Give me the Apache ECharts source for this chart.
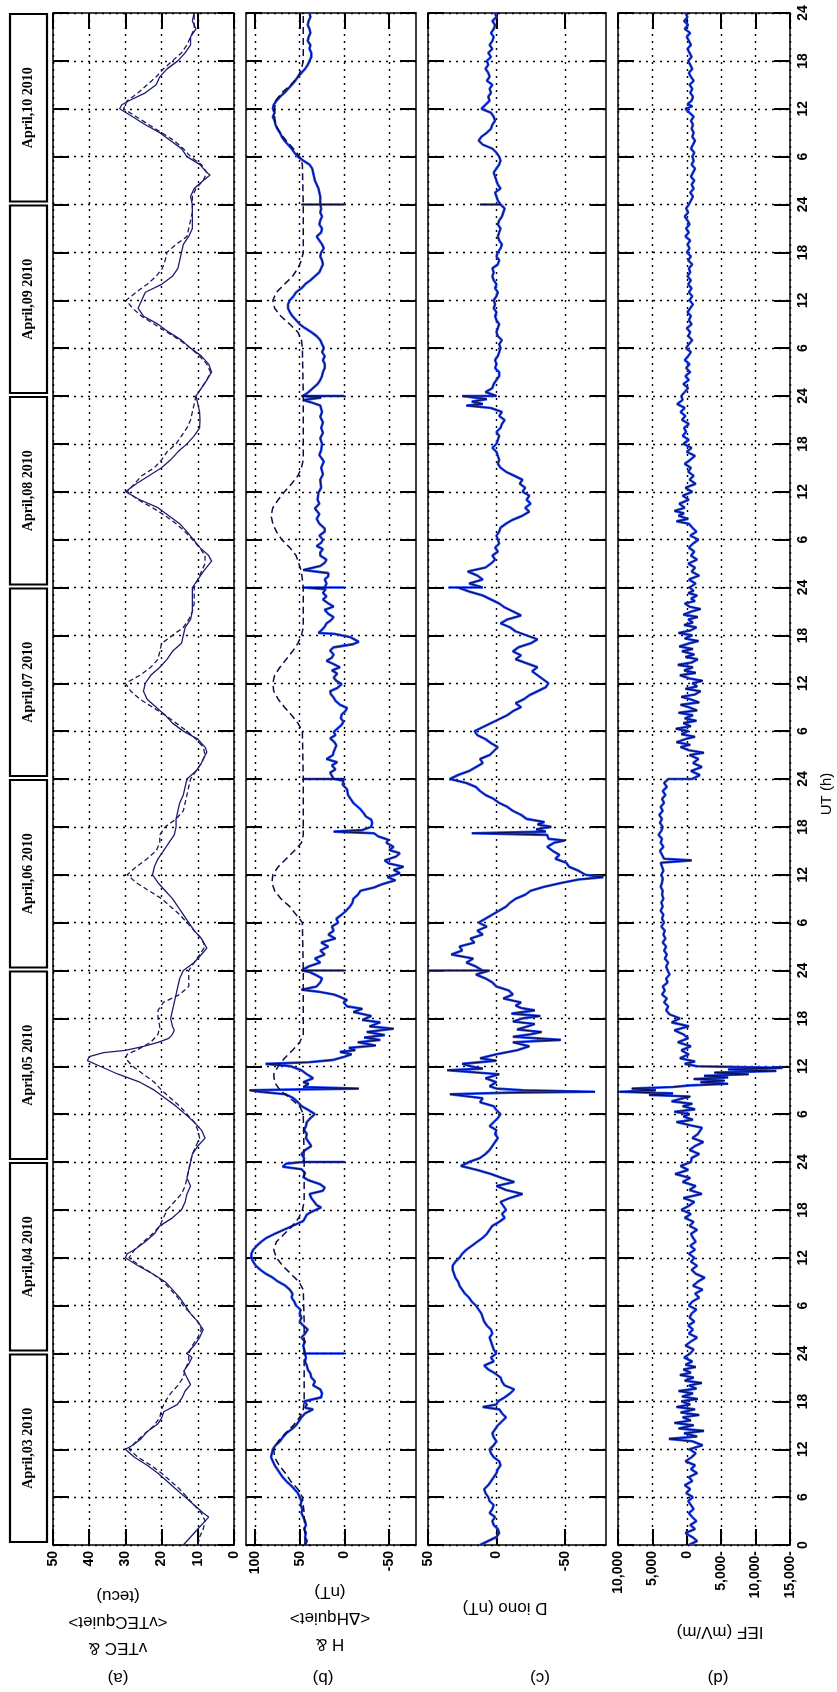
<!DOCTYPE html>
<html><head><meta charset="utf-8">
<script src="https://cdn.jsdelivr.net/npm/echarts@6/dist/echarts.min.js"></script>
<style>html,body{margin:0;padding:0;background:#fff}#c{width:837px;height:1692px}</style>
</head><body><div id="c"></div>
<script>
// ---------- DATA ([UT hour since 3 Apr 00:00, value]) ----------
const dayLabels = ['April,03 2010','April,04 2010','April,05 2010','April,06 2010','April,07 2010','April,08 2010','April,09 2010','April,10 2010'];
const dayStarts = [0,24,48,72,96,120,144,168];
const tecTicks = [0,10,20,30,40,50];
const hTicks = [-50,0,50,100];
const dTicks = [-50,0,50];
const iefTicks = [-15000,-10000,-5000,0,5000,10000];

const vtec = [[0,14],[1,12],[2,10],[3,8],[3.5,7],[4,8.5],[5,11],[6,13.5],[7,16],[8,18.5],[9,21],[10,24],[11,27.5],[12,30],[12.5,28],[13.3,25.7],[14.2,24],[15.2,21],[15.9,20],[16.7,19.4],[17.6,15.7],[18.4,14.4],[19.3,13.5],[20.1,12],[21,13],[21.8,13.9],[22.7,12.5],[23.5,11.6],[24,13],
[25,11],[26,9.5],[27,8.5],[28,10],[29,12],[30,13.5],[31,15],[32,17],[33,19],[34,22.5],[35,26.5],[36,30],[36.5,29.5],[37,27.5],[38,24.5],[39,22],[40,20.5],[41,17],[42,14.5],[43,13.5],[44,13],[45,12],[46,13],[47,12.5],[48,12],
[49,11.5],[50,10],[51,8],[52,9],[53,11],[54,13.5],[55,16],[56,19],[57,22],[58,26],[59,32],[60,37],[60.7,40.5],[61.2,40],[61.7,36],[62,30],[62.5,25],[63,21],[63.5,18],[64,17],[64.5,16.5],[65,17],[66,17.5],[67,17],[68,16.5],[69,16],[70,15.5],[71,15],[72,14],
[73,11],[74,9],[74.8,7.5],[76,9],[77,11],[78,12.5],[79,14],[80,15.5],[81,17],[82,19],[83,21],[84,22.5],[85,22],[86,21],[87,19.5],[88,18],[89,16.5],[90,16],[91,16],[92,15.5],[93,15],[94,14],[95,13.5],[96,13],
[97,10.5],[98,9],[99.4,7.5],[100,8],[101,10],[102,14],[103,17],[104,19],[105,21.5],[106,24],[107,25],[108,24.5],[109,23],[110,20.5],[111,18.5],[112,17],[113,14.5],[114,14],[115,13.5],[116,12],[117,11.5],[118,11.5],[119,11.5],[120,11.5],
[121,10],[122,8.5],[123.3,6.2],[124,7],[125,9.4],[126,11.2],[127,13],[128,15],[129,18],[130,21],[131,26],[132,30],[133,27],[134,23.5],[135,20],[136,17.5],[137,15.5],[138,13],[139,11],[140,9.5],[141,9.4],[142,9.5],[143,10],[144,10.5],
[145,9],[146,7.5],[147,6.2],[148,7],[149,9],[150,12],[151,14.5],[152,18],[153,21],[154,25],[155,26.5],[156,25.5],[157,24.5],[158,20],[159,17],[160,15.5],[161,15],[162,14.5],[163,14],[164,12.5],[165,11.5],[166,11.5],[167,11.5],[168,11.5],
[169,12],[170,11],[171,8.5],[171.7,6.6],[172,7.5],[173,9.4],[174,13],[175,14.5],[176,17.5],[177,20.5],[178,24.5],[179,28],[180,31.6],[180.5,31],[181,29],[182,24.5],[183,21.5],[184,20.5],[185,18.5],[186,15.5],[187,13.5],[188,12],[189,12],[190,10.5],[191,11.5],[192,11]];

const vtecQuiet = [[0,10],[1,9.5],[2,8.5],[3,8],[4,9],[5,11],[6,13],[7,15],[8,17.5],[9,20],[10,23],[11,26.5],[12,29],[13,27],[14,24.5],[15,22],[16,20.5],[17,20],[18,19],[19,17.5],[20,15.5],[21,14],[22,13.5],[23,12.5],[24,12.5],
[25,11.5],[26,10],[27,9],[28,10],[29,12],[30,14],[31,15.5],[32,17.5],[33,19.5],[34,22.5],[35,26],[36,29],[37,27.5],[38,25],[39,22.5],[40,20.5],[41,19.5],[42,18.5],[43,16.5],[44,14.5],[45,13.5],[46,13],[47,12.5],[48,12],
[49,11.5],[50,10.5],[51,9.5],[52,10],[53,11],[54,13],[55,15],[56,17.5],[57,20],[58,22],[59,25],[60,28],[61,30],[61.5,29.5],[62,27],[63,23],[64,21],[65,20.5],[66,21],[67,21],[68,19.5],[69,15],[70,12.5],[71,12.5],[72,12.5],
[73,11],[74,9.5],[75,8],[76,9],[77,11],[78,13],[79,15],[80,17.5],[81,20],[82,23.5],[83,27],[84,29.5],[85,27],[86,24],[87,21.5],[88,20.5],[89,20.5],[90,19],[91,16],[92,14],[93,13.5],[94,13],[95,12.5],[96,12],
[97,10.5],[98,9],[99,8],[100,8.5],[101,10.5],[102,13],[103,16],[104,19],[105,22.5],[106,26],[107,28.5],[108,30],[109,26],[110,23],[111,21],[112,20.5],[113,20],[114,17],[115,14],[116,12.5],[117,11.5],[118,11],[119,11],[120,11],
[121,10],[122,9],[123,8],[124,8],[125,9.5],[126,11.5],[127,13.5],[128,16],[129,19],[130,22.5],[131,26.5],[132,29.5],[133,27.5],[134,25.5],[135,22],[136,20],[137,18.5],[138,16],[139,14.5],[140,13],[141,12],[142,11.5],[143,11],[144,10.5],
[145,9],[146,7.5],[147,6.5],[148,7.5],[149,9.5],[150,12],[151,15],[152,18.5],[153,22],[154,25.5],[155,28],[156,29.8],[157,27],[158,24],[159,21.5],[160,19.8],[161,19],[162,18.5],[163,16],[164,13],[165,12.5],[166,12],[167,11.5],[168,11.5],
[169,11.5],[170,10.5],[171,8.5],[172,7.5],[173,9],[174,12],[175,14],[176,16.5],[177,20],[178,23.5],[179,27],[180,30.5],[181,29.5],[182,26.5],[183,24],[184,21.5],[185,19.5],[186,17],[187,14.5],[188,13],[189,12],[190,11],[191,11],[192,11]];

const hObs = [[0,44],[0.5,42],[1,44],[1.5,43],[2,45],[2.5,43],[3,44],[3.5,46],[4,48],[4.5,47],[5,49],[5.5,48],[6,50],[6.5,52],[7,56],[7.5,60],[8,65],[8.5,69],[9,72],[9.5,75],[10,78],[10.5,80],[11,82],[11.5,81],[12,80],[12.5,77],[13,72],[13.5,69],[14,65],[14.5,59],[15,54],[15.5,51],[16,48],[16.5,44],[17,35],[17.2,44],[17.6,42],[18,45],[18.5,26],[19,25],[19.5,27],[20,35],[20.5,33],[21,37],[21.5,38],[22,41],[22.5,42],[23,44],[23.5,43],[24,44],[24,0],[24,44],
[24.5,45],[25,46],[25.5,44],[26,48],[26.5,44],[27,41],[27.5,46],[28,50],[28.5,48],[29,50],[29.5,49],[30,54],[30.5,56],[31,59],[31.5,58],[32,61],[32.5,66],[33,74],[33.5,80],[34,88],[34.5,94],[35,99],[35.5,102],[36,104],[36.5,104],[37,102],[37.5,98],[38,93],[38.5,87],[39,78],[39.5,68],[40,58],[40.6,46],[41,44],[41.4,42],[41.8,36],[42.3,26],[42.6,31],[42.9,33],[43.5,37],[44,39],[44.4,24],[44.8,22],[45.2,27],[45.7,40],[46.1,46],[46.6,44],[47.1,48],[47.4,69],[47.8,65],[48,46],[48,0],[48,46],
[48.5,45],[49,48],[49.5,44],[50,37],[50.5,40],[51,43],[51.5,42],[52,45],[52.5,43],[53,42],[53.5,38],[54,33],[54.5,40],[55,48],[55.5,52],[56,57],[56.5,66],[56.8,95],[57,106],[57.1,48],[57.2,-16],[57.4,46],[57.8,40],[58,46],[58.5,35],[59,42],[59.5,48],[60,60],[60.3,88],[60.5,40],[60.8,12],[61.2,0],[61.5,-8],[61.8,5],[62,-12],[62.3,-5],[62.6,-35],[63,-15],[63.3,-40],[63.6,-22],[63.9,-45],[64.3,-25],[64.7,-55],[65,-28],[65.5,-40],[65.8,-20],[66.3,-30],[66.8,-10],[67.2,-20],[67.5,-3],[68,1],[68.3,-3],[68.7,5],[69,12],[69.3,27],[69.6,48],[70,31],[70.5,27],[71,25],[71.5,33],[71.8,39],[72,48],[72,0],[72,48],
[72.5,40],[73,27],[73.5,33],[74,22],[74.5,27],[75,18],[75.5,26],[76,10],[76.5,18],[77,12],[77.5,14],[78,7],[78.5,9],[79,3],[79.5,-2],[80,-6],[80.5,-9],[81,-10],[81.5,-15],[82,-18],[82.4,-33],[82.8,-42],[83.3,-57],[83.7,-48],[84.2,-62],[84.6,-55],[85,-66],[85.4,-50],[85.8,-45],[86.3,-58],[86.7,-62],[87.1,-50],[87.5,-55],[88,-47],[88.4,-49],[88.8,-38],[89.2,-33],[89.4,12],[89.6,-20],[90,-30],[90.5,-31],[90.9,-30],[91.3,-24],[91.8,-21],[92.2,-18],[92.6,-14],[93,-10],[93.5,-7],[94,-4],[94.7,-3],[95.3,2],[95.8,1],[96,12],[96,46],[96,0],[96,12],
[96.8,16],[97.2,10],[97.7,14],[98.1,8],[98.5,20],[99,13],[99.4,12],[100.2,9],[100.6,11],[101.1,16],[101.5,10],[101.9,12],[102.4,7],[102.8,3],[103.2,1],[103.6,4],[104.1,3],[104.5,-1],[104.9,-3],[105.3,5],[105.8,10],[106.2,12],[106.6,15],[107,16],[107.4,8],[107.9,3],[108.3,9],[108.7,12],[109.2,8],[109.6,14],[110,5],[110.4,12],[110.8,20],[111.2,14],[111.6,12],[112.1,16],[112.5,12],[112.9,-10],[113.2,-16],[113.4,-14],[113.8,-6],[114.2,12],[114.3,29],[114.7,25],[115.1,22],[115.5,20],[115.9,15],[116.3,12],[116.7,18],[117.2,22],[117.6,12],[118,18],[118.5,24],[118.9,20],[119.3,24],[119.8,21],[120,20],[120,46],[120,0],[120,22],
[120.5,20],[121,22],[121.4,18],[121.8,18],[122.2,46],[122.4,44],[122.7,27],[123.1,22],[123.5,20],[124,27],[124.4,27],[124.8,24],[125.2,31],[125.6,26],[126,24],[126.5,28],[127,22],[127.4,22],[128,28],[128.6,31],[129.2,28],[129.9,33],[130.5,28],[131,30],[131.9,29],[132.5,26],[133.5,27],[134.2,24],[135,26],[135.8,23],[136.6,28],[137.2,26],[138,25],[138.7,27],[139.4,24],[140,26],[140.7,24],[141.4,27],[142,25],[142.8,27],[143.2,37],[143.5,46],[143.8,26],[144,48],[144,0],[144,46],
[144.5,40],[145,35],[145.5,30],[146,27],[146.5,25],[147,24],[147.5,22],[148,22],[148.5,24],[149,22],[149.5,25],[150,23],[150.5,25],[151,27],[151.5,31],[152,37],[152.5,44],[153,50],[153.5,54],[154,58],[154.5,61],[155,63],[155.5,63],[156,61],[156.5,57],[157,54],[157.5,48],[158,44],[158.5,38],[159,33],[159.5,28],[160,26],[160.5,24],[161,25],[161.5,27],[162,26],[162.5,23],[163,25],[163.5,28],[164,31],[164.5,26],[165,25],[165.5,28],[166,27],[166.5,25],[167,27],[167.5,26],[168,27],[168,48],[168,0],[168,27],
[168.5,27],[169,27],[170,29],[170.5,31],[171,33],[171.5,34],[172,35],[172.5,36],[173,39],[173.5,46],[174,52],[174.5,56],[175,59],[175.5,63],[176,67],[176.5,70],[177,72],[177.5,75],[178,77],[178.5,78],[179,80],[179.5,78],[180,80],[180.5,79],[181,76],[181.5,72],[182,67],[182.5,63],[183,59],[183.5,55],[184,52],[184.5,48],[185,44],[185.5,41],[186,39],[186.5,37],[187,37],[187.5,39],[188,38],[188.5,41],[189,40],[189.5,38],[190,39],[190.5,41],[191,40],[191.5,38],[192,39]];

const hQuiet = [[0,44],[4,45],[6,47],[7,52],[8,60],[9,66],[10,73],[11,78],[12,79],[13,74],[14,66],[15,57],[16,50],[17,46],[18,45],[24,45],
[28,45],[32,46],[33,51],[34,60],[35,69],[36,76],[37,79],[38,76],[39,67],[40,58],[41,51],[42,47],[43,45],[48,45],
[54,46],[55,50],[56,61],[57,72],[58,78],[59,79],[60,74],[61,67],[62,58],[63,50],[64,46],[72,46],
[78,47],[79,54],[80,61],[81,71],[82,78],[83,81],[84,80],[85,74],[86,65],[87,56],[88,48],[89,46],[96,46],
[102,47],[103,52],[104,59],[105,67],[106,74],[107,79],[108,80],[109,78],[110,72],[111,65],[112,58],[113,52],[114,48],[115,46],[120,46],
[122,48],[124,54],[125,61],[126,70],[127,76],[128,80],[129,82],[130,80],[131,74],[132,67],[133,59],[134,52],[135,48],[136,46],[144,46],
[150,47],[151,48],[152,52],[153,61],[154,71],[155,78],[156,80],[157,76],[158,67],[159,58],[160,52],[161,48],[162,46],[168,46],
[173,47],[174,50],[175,57],[176,65],[177,72],[178,77],[179,78],[180,78],[181,77],[182,70],[183,60],[184,52],[185,48],[186,46],[192,46]];

const dIono = [[0,12],[0.5,6],[1,0],[1.5,-2],[2,-1],[2.5,2],[3,3],[3.5,1],[4,5],[4.5,3],[5,2],[5.5,5],[6,6],[6.5,8],[7,9],[7.5,6],[8,4],[8.5,2],[9,0],[9.5,-1],[10,-3],[10.5,-2],[11,2],[11.5,4],[12,5],[12.5,2],[13,0],[13.5,2],[14,3],[14.5,1],[15,-1],[15.5,-4],[16,-7],[16.5,-4],[17,-2],[17.3,10],[17.6,0],[18,-1],[18.5,-6],[19,-10],[19.5,-13],[20,-6],[20.5,-4],[21,-3],[21.5,1],[22,6],[22.5,9],[23,2],[23.5,4],[24,0],
[24.5,2],[25,3],[25.5,4],[26,5],[26.5,3],[27,4],[27.5,7],[28,9],[28.5,10],[29,11],[29.5,13],[30,15],[30.5,18],[31,20],[31.5,23],[32,25],[32.5,27],[33,28],[33.5,30],[34,31],[34.5,32],[35,32],[35.5,30],[36,27],[36.5,25],[37,22],[37.5,18],[38,14],[38.5,10],[39,7],[39.5,5],[40,3],[40.5,-2],[41,-6],[41.5,-4],[42,-7],[42.5,-5],[43,-3],[43.5,-10],[44,-19],[44.5,-7],[45,0],[45.5,-13],[46,-4],[46.5,4],[47,14],[47.5,26],[48,20],
[48.5,12],[49,8],[49.5,5],[50,3],[50.5,1],[51,-1],[51.5,1],[52,0],[52.5,5],[53,2],[53.5,-1],[54,-3],[54.5,0],[55,2],[55.5,12],[56,10],[56.5,34],[56.7,-10],[56.8,-72],[57,-20],[57.2,0],[57.5,5],[58,0],[58.5,8],[59,-2],[59.5,36],[59.7,10],[60,19],[60.3,25],[60.7,0],[61,12],[61.5,0],[62,-15],[62.5,-24],[63,-12],[63.3,-47],[63.7,-12],[64,-25],[64.3,-33],[64.6,-15],[65,-23],[65.3,-28],[65.6,-12],[66,-19],[66.3,-32],[66.6,-11],[67,-28],[67.3,-18],[67.6,-14],[68,-18],[68.5,-5],[69,-12],[69.5,-9],[70,0],[70.5,3],[71,8],[71.5,15],[72,5],[72,50],[72,10],
[72.5,15],[73,22],[73.5,17],[74,33],[74.5,25],[75,27],[75.5,16],[76,19],[76.5,10],[77,14],[77.5,7],[78,13],[78.5,8],[79,3],[79.5,-2],[80,-7],[80.5,-10],[81,-14],[81.5,-21],[82,-25],[82.5,-35],[83,-48],[83.4,-60],[83.7,-78],[84,-65],[84.5,-60],[85,-53],[85.5,-51],[86,-43],[86.5,-46],[87,-41],[87.5,-37],[88,-42],[88.3,-50],[88.5,-38],[89,-37],[89.2,18],[89.4,-36],[89.7,-29],[90,-40],[90.3,-30],[90.6,-35],[91,-22],[91.5,-18],[92,-12],[92.5,-8],[93,-2],[93.5,2],[94,8],[94.5,12],[95,15],[95.5,22],[96,34],
[96.5,28],[97,20],[97.5,15],[98,10],[98.5,12],[99,5],[99.5,2],[100,-1],[100.5,4],[101,8],[101.5,14],[102,16],[102.5,10],[103,4],[103.5,-2],[104,-8],[104.5,-12],[105,-18],[105.5,-14],[106,-20],[106.5,-24],[107,-30],[107.5,-36],[108,-38],[108.5,-34],[109,-30],[109.5,-26],[110,-30],[110.5,-22],[111,-14],[111.5,-18],[112,-12],[112.5,-16],[113,-25],[113.5,-30],[114,-22],[114.5,-14],[115,-10],[115.5,-3],[116,-8],[116.5,-18],[117,-12],[117.5,-6],[118,-2],[118.5,4],[119,10],[119.5,20],[120,28],[120,35],[120,10],
[120.5,20],[121,10],[121.5,14],[122,21],[122.5,8],[123,4],[123.5,1],[124,3],[124.5,-1],[125,1],[125.5,-2],[126,-1],[126.5,0],[127,-2],[127.5,-3],[128,-7],[128.5,-12],[129,-19],[129.5,-24],[130,-21],[130.5,-25],[131,-22],[131.5,-24],[132,-19],[132.5,-21],[133,-17],[133.5,-19],[134,-13],[134.5,-7],[135,-3],[135.5,-1],[136,-2],[137,0],[137.5,3],[138,0],[138.5,-1],[139,-2],[139.5,0],[140,-3],[140.5,-4],[141,-6],[141.5,-2],[142,-4],[142.5,4],[142.8,22],[143,10],[143.3,18],[143.6,7],[144,25],[144,0],
[144.5,8],[145,3],[145.5,2],[146,0],[146.5,-2],[147,-2],[147.5,1],[148,0],[148.5,1],[149,-1],[149.5,-2],[150,-3],[150.5,-2],[151,-4],[151.5,-1],[152,0],[152.5,-1],[153,-2],[153.5,0],[154,1],[154.5,0],[155,2],[155.5,1],[156,2],[156.5,0],[157,-1],[157.5,1],[158,0],[158.5,2],[159,3],[159.5,2],[160,3],[160.5,-1],[161,-2],[161.5,0],[162,-1],[162.5,-3],[163,-4],[163.5,-2],[164,-1],[164.5,-2],[165,-3],[165.5,-1],[166,-2],[166.5,-4],[167,-5],[167.5,-6],[168,-3],[168,12],[168,-3],
[168.5,-1],[169,0],[169.5,1],[170,-3],[170.5,-1],[171,0],[171.5,1],[172,2],[172.5,0],[173,-2],[173.5,-3],[174,-2],[174.5,0],[175,3],[175.5,10],[176,13],[176.5,11],[177,7],[177.5,4],[178,3],[178.5,1],[179,2],[179.5,4],[180,11],[180.5,8],[181,5],[181.5,6],[182,4],[182.5,5],[183,3],[183.5,7],[184,5],[184.5,6],[185,8],[185.5,6],[186,7],[186.5,4],[187,6],[187.5,3],[188,5],[188.5,3],[189,2],[189.5,4],[190,2],[190.5,1],[191,3],[191.5,0],[192,1]];

const ief = [[0,-300],[0.5,-1500],[1,-800],[1.5,200],[2,-1200],[2.5,-500],[3,-1400],[3.5,-800],[4,-300],[4.5,-1000],[5,-600],[5.5,-200],[6,-900],[6.5,100],[7,-500],[7.5,300],[8,-800],[8.5,-300],[9,-1500],[9.5,-600],[10,-1200],[10.5,200],[11,-700],[11.5,-1300],[12,-400],[12.5,-2300],[13,-800],[13.3,2600],[13.6,-1500],[14,400],[14.3,-2500],[14.6,1200],[15,-1000],[15.3,1800],[15.6,-600],[16,600],[16.3,-1800],[16.6,900],[17,-1200],[17.3,1500],[17.6,-500],[18,800],[18.3,-1600],[18.6,700],[19,-900],[19.3,1200],[19.6,-1400],[20,-300],[20.3,-2200],[20.6,300],[21,-1000],[21.3,1000],[21.6,-600],[22,500],[22.3,-1300],[22.6,200],[23,-800],[23.5,400],[24,-500],
[24.5,-1000],[25,200],[25.5,-600],[26,-1500],[26.5,-300],[27,-900],[27.5,-200],[28,-1100],[28.5,-400],[29,-700],[29.5,-1400],[30,-300],[30.5,-800],[31,-1800],[31.5,-1200],[32,-2300],[32.5,-900],[33,-1600],[33.5,-2600],[34,-1300],[34.5,-700],[35,-1500],[35.5,-600],[36,-1100],[36.5,-300],[37,-1200],[37.5,-500],[38,-1300],[38.5,-900],[39,-600],[39.5,-1500],[40,-400],[40.5,-1000],[41,300],[41.5,-600],[42,800],[42.5,-300],[43,-1100],[43.5,500],[44,-2200],[44.5,-400],[45,-1300],[45.5,600],[46,-500],[46.5,1700],[47,-200],[47.5,900],[48,-600],
[48.5,-700],[49,-1800],[49.5,-400],[50,-1200],[50.5,-2400],[51,-800],[51.5,-1600],[52,-2000],[52.3,-2200],[52.6,-500],[53,1500],[53.3,-900],[53.7,500],[54,-400],[54.3,1800],[54.6,-1200],[55,600],[55.3,-800],[55.6,2200],[56,500],[56.2,-500],[56.4,5500],[56.6,2000],[56.8,9800],[57,4500],[57.2,8000],[57.4,2000],[57.6,-500],[57.8,-6000],[58,-2000],[58.2,-5500],[58.4,-1000],[58.6,-6000],[58.8,-2500],[59,-9000],[59.2,-4000],[59.4,-13000],[59.6,-6000],[59.8,-13900],[60,-1500],[60.3,300],[60.6,-1200],[61,1000],[61.5,-300],[62,800],[62.5,-600],[63,1300],[63.5,-200],[64,500],[64.5,1800],[65,-300],[65.5,2200],[66,1000],[66.5,2500],[67,3000],[67.5,2700],[68,3300],[68.5,2900],[69,3600],[69.5,3200],[70,3500],[70.5,2800],[71,3000],[71.5,2500],[72,2800],
[72.5,3000],[73,2700],[73.5,3200],[74,2900],[74.5,3300],[75,3000],[75.5,3500],[76,3100],[76.5,3400],[77,3200],[77.5,3700],[78,3300],[78.5,3600],[79,3400],[79.5,3800],[80,3500],[80.5,3700],[81,3400],[81.5,3600],[82,3500],[82.5,3800],[83,3600],[83.5,3500],[84,3700],[84.5,3400],[85,3600],[85.5,3800],[85.8,-700],[86,3300],[86.5,3600],[87,3900],[87.5,3400],[88,3800],[88.5,3600],[89,4100],[89.5,3700],[90,3500],[90.5,3900],[91,3600],[91.5,4000],[92,3500],[92.5,3800],[93,3300],[93.5,3600],[94,3100],[94.5,3500],[95,2900],[95.5,3300],[96,2700],
[96,-800],[96.5,-1900],[97,-600],[97.5,-2200],[98,-900],[98.5,-1700],[99,-400],[99.3,-2500],[99.6,-300],[100,900],[100.3,-500],[100.6,1500],[101,200],[101.3,-1200],[101.6,800],[102,-200],[102.3,1600],[102.6,-600],[103,500],[103.3,-1400],[103.6,300],[104,-900],[104.3,1200],[104.6,-1500],[105,-300],[105.3,900],[105.6,-1800],[106,-500],[106.3,800],[106.6,-1200],[107,-2000],[107.3,200],[107.6,-1500],[108,-800],[108.3,-2300],[108.6,-400],[109,1000],[109.3,-1300],[109.6,400],[110,-900],[110.3,1300],[110.6,-700],[111,-1600],[111.3,200],[111.6,-1100],[112,700],[112.3,-900],[112.6,1100],[113,-400],[113.3,-1700],[113.6,300],[114,-800],[114.3,1200],[114.6,-500],[115,-1400],[115.3,400],[115.6,-900],[116,-200],[116.3,-1600],[116.6,500],[117,-700],[117.3,-2000],[117.6,-400],[118,300],[118.3,-1200],[118.6,-600],[119,-1500],[119.3,-200],[119.6,-1000],[120,-400],
[120.5,-1300],[121,-300],[121.5,-1800],[122,-700],[122.5,-1200],[123,-200],[123.5,-1500],[124,-600],[124.5,-1100],[125,-300],[125.5,-900],[126,-1700],[126.5,-500],[127,-1400],[127.5,-800],[128,-300],[128.3,1500],[128.6,-200],[129,1200],[129.3,400],[129.6,1800],[130,300],[130.5,1100],[131,-300],[131.5,600],[132,-800],[132.5,200],[133,-1300],[133.5,-400],[134,-1000],[134.5,-200],[135,-600],[135.5,300],[136,-500],[136.5,-1200],[137,0],[137.5,-700],[138,500],[138.5,-300],[139,600],[139.5,100],[140,400],[140.5,-300],[141,700],[141.5,200],[142,900],[142.5,300],[143,1400],[143.5,600],[144,800],
[144.5,300],[145,-200],[145.5,500],[146,-300],[146.5,200],[147,-500],[147.5,100],[148,-400],[148.5,300],[149,-200],[149.5,-600],[150,100],[150.5,-300],[151,-800],[151.5,-200],[152,-500],[152.5,0],[153,-700],[153.5,-300],[154,-600],[154.5,-100],[155,-500],[155.5,-900],[156,-400],[156.5,-800],[157,-300],[157.5,-700],[158,-200],[158.5,-600],[159,-100],[159.5,-500],[160,-300],[160.5,-800],[161,-200],[161.5,-600],[162,0],[162.5,-400],[163,-100],[163.5,-500],[164,200],[164.5,-300],[165,100],[165.5,-400],[166,-100],[166.5,300],[167,-200],[167.5,100],[168,-300],
[168.5,-600],[169,-900],[169.5,-500],[170,-1000],[170.5,-700],[171,-1100],[171.5,-600],[172,-900],[172.5,-1200],[173,-700],[173.5,-1000],[174,-800],[174.5,-1100],[175,-600],[175.5,-900],[176,-1200],[176.5,-800],[177,-1000],[177.5,-700],[178,-900],[178.5,-600],[179,-1000],[179.5,-400],[180,200],[180.3,-800],[180.6,-100],[181,-700],[181.5,-900],[182,-500],[182.5,-800],[183,-400],[183.5,-1000],[184,-600],[184.5,-300],[185,-800],[185.5,-500],[186,-200],[186.5,-700],[187,-400],[187.5,-100],[188,-600],[188.5,-300],[189,0],[189.5,-500],[190,300],[190.5,-200],[191,400],[191.5,-100],[192,200]];

// ---------- LAYOUT ----------
const TOP = 13, H = 1532;
const panels = [
  {left:53,  width:181, min:0,      max:50,    ticks:tecTicks, fmt:v=>String(v)},
  {left:246, width:170, min:-80,    max:110,   ticks:hTicks,   fmt:v=>String(v)},
  {left:428, width:178, min:-80,    max:50,    ticks:dTicks,   fmt:v=>String(v)},
  {left:618, width:172, min:-15000, max:10000, ticks:iefTicks, fmt:v=>v===0?'0':(v<0?Math.abs(v).toLocaleString('en-US')+'-':v.toLocaleString('en-US'))}
];
const swap = arr => arr.map(p => [p[1], p[0]]);
const axisLine = {show:true, onZero:false, lineStyle:{color:'#000', width:1.5}};
const tick = {show:true, inside:true, length:16, lineStyle:{color:'#000', width:2}};
const dotted = {show:true, lineStyle:{color:'#000', width:1.4, type:[2,5]}};

const grid = [], xAxis = [], yAxis = [];
panels.forEach((p, i) => {
  grid.push({left:p.left, top:TOP, width:p.width, height:H, outerBoundsMode:'none'});
  ['bottom','top'].forEach((pos, k) => {
    xAxis.push({type:'value', gridIndex:i, position:pos, min:p.min, max:p.max, inverse:true,
      interval: (i===0?10:(i===3?5000:undefined)),
      axisLine, axisTick:Object.assign({customValues:p.ticks}, tick),
      splitLine: k===0 ? dotted : {show:false},
      axisLabel: k===0 ? {show:true, customValues:p.ticks, rotate:90, fontSize:14, fontWeight:'bold', fontFamily:'Liberation Sans, Arial', color:'#000', margin:6, formatter:p.fmt, showMinLabel:true, showMaxLabel:true} : {show:false}});
  });
  ['left','right'].forEach((pos, k) => {
    const lab = (i===3 && k===1);
    yAxis.push({type:'value', gridIndex:i, position:pos, min:0, max:192, interval:6,
      axisLine, axisTick:tick, splitLine: k===0 ? dotted : {show:false},
      axisLabel: lab ? {show:true, rotate:90, fontSize:14, fontWeight:'bold', fontFamily:'Liberation Sans, Arial', color:'#000', margin:6, showMinLabel:true, showMaxLabel:true,
        formatter: v => v===0 ? '0' : (v%24===0 ? '24' : String(v%24))} : {show:false}});
  });
});
// day label column
grid.push({left:10, top:TOP, width:37, height:H, outerBoundsMode:'none'});
xAxis.push({type:'value', gridIndex:4, min:0, max:1, show:false});
yAxis.push({type:'value', gridIndex:4, min:0, max:192, show:false});

const blue = '#1f47ff', navy = '#0c0c4a';
function obs(data, i, name){
  return [
    {type:'line', name:name+'_b', xAxisIndex:2*i, yAxisIndex:2*i, data:swap(data), showSymbol:false, lineStyle:{color:blue, width:2.6}, z:2},
    {type:'line', name:name, xAxisIndex:2*i, yAxisIndex:2*i, data:swap(data), showSymbol:false, lineStyle:{color:navy, width:1}, z:3}
  ];
}
const series = [
  {type:'line', name:'vTECquiet', xAxisIndex:0, yAxisIndex:0, data:swap(vtecQuiet), showSymbol:false, lineStyle:{color:'#1a1a55', width:1.3, type:[5,3]}},
  {type:'line', name:'vTEC', xAxisIndex:0, yAxisIndex:0, data:swap(vtec), showSymbol:false, lineStyle:{color:'#1c1c70', width:1.3}},
  {type:'line', name:'Hquiet', xAxisIndex:2, yAxisIndex:2, data:swap(hQuiet), showSymbol:false, lineStyle:{color:'#0c0c40', width:1.5, type:[7,4]}, z:4},
  ...obs(hObs, 1, 'H'),
  ...obs(dIono, 2, 'Diono'),
  ...obs(ief, 3, 'IEF'),
  {type:'custom', xAxisIndex:8, yAxisIndex:8, data:dayStarts.map(s => [s, s+24]), clip:false,
    renderItem:(params, api) => {
      const p0 = api.coord([0, api.value(0)]), p1 = api.coord([1, api.value(1)]);
      const x = p0[0], w = p1[0]-p0[0], yT = p1[1]+1, yB = p0[1]-3;
      return {type:'group', children:[
        {type:'rect', shape:{x:x, y:yT, width:w, height:yB-yT}, style:{fill:'#fff', stroke:'#000', lineWidth:2.2}},
        {type:'text', x:x+w/2, y:(yT+yB)/2, rotation:Math.PI/2,
          style:{text:dayLabels[params.dataIndex], align:'center', verticalAlign:'middle', fontSize:14, fontWeight:'bold', fontFamily:'Liberation Serif, Times New Roman', fill:'#000'}}
      ]};
    }}
];

const txt = (x, y, text, size, rot) => ({type:'text', x:x, y:y, rotation:rot,
  style:{text:text, align:'center', verticalAlign:'middle', fontSize:size, lineHeight:26, fontFamily:'Liberation Sans, Arial', fill:'#000'}});
const PI = Math.PI;
const graphic = [
  txt(118, 1622, 'vTEC &\n<vTECquiet>\n(tecu)', 17, PI), txt(118, 1678, '(a)', 17, PI),
  txt(330, 1618, 'H &\n<ΔHquiet>\n(nT)', 17, PI), txt(323, 1678, '(b)', 17, PI),
  txt(505, 1608, 'D iono (nT)', 17, PI), txt(540, 1678, '(c)', 17, PI),
  txt(720, 1632, 'IEF (mV/m)', 17, PI), txt(718, 1678, '(d)', 17, PI),
  txt(827, 794, 'UT (h)', 15, PI/2)
];

const chart = echarts.init(document.getElementById('c'), null, {renderer:'canvas'});
chart.setOption({animation:false, backgroundColor:'#fff', grid, xAxis, yAxis, series, graphic});
</script></body></html>
